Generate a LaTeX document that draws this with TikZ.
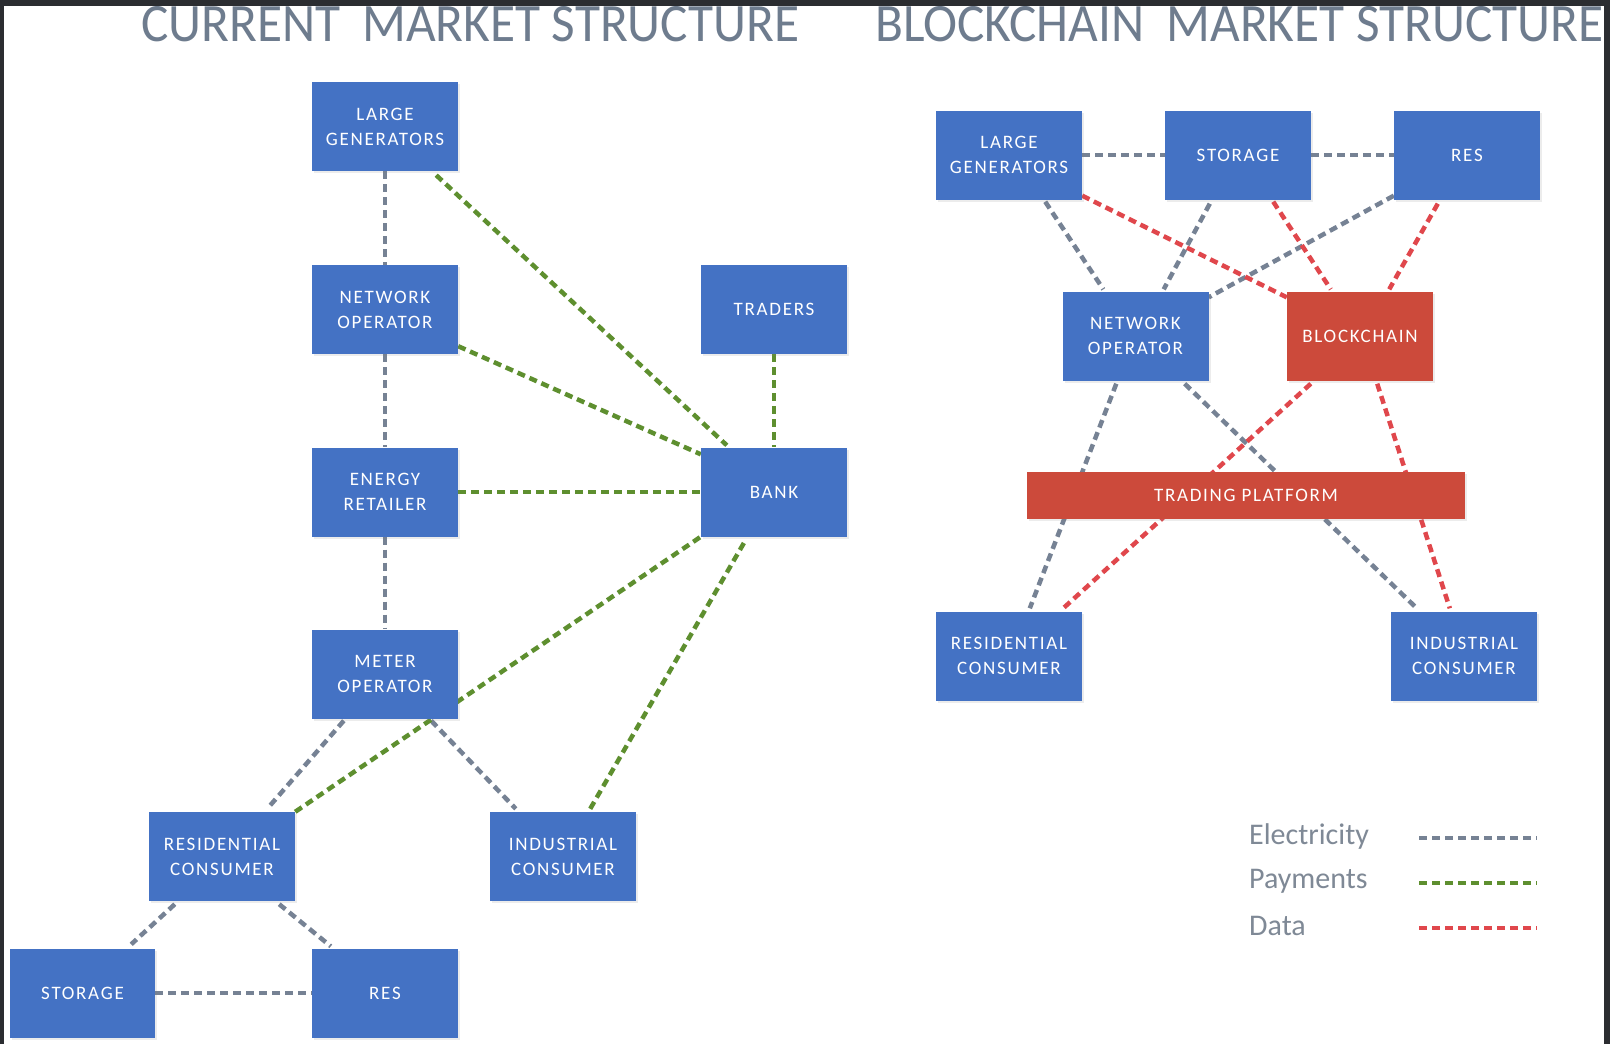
\documentclass[tikz,border=0pt]{standalone}
\usepackage{fontspec}
\setmainfont{Carlito}
\newfontfamily\boxfont[LetterSpace=9]{Carlito}
\usetikzlibrary{calc,shadows}
\definecolor{boxblue}{HTML}{4472C4}
\definecolor{boxred}{HTML}{CC4A3B}
\definecolor{elec}{HTML}{768294}
\definecolor{pay}{HTML}{5E8F2F}
\definecolor{dat}{HTML}{E0474C}
\definecolor{titlecol}{HTML}{6E7C8E}
\definecolor{legcol}{HTML}{7F8996}
\definecolor{framecol}{HTML}{2B2D31}
\pgfdeclarelayer{back}
\pgfdeclarelayer{bg}
\pgfdeclarelayer{front}
\pgfsetlayers{back,bg,main,front}
\begin{document}
\begin{tikzpicture}[x=1pt,y=-1pt,
  bx/.style={rectangle, fill=boxblue, text=white, minimum width=146pt, minimum height=89pt,
    inner sep=0pt, align=center, font=\boxfont\fontsize{19}{25}\selectfont,
    drop shadow={shadow xshift=2pt,shadow yshift=-2pt,opacity=0.15}},
  rbx/.style={bx, fill=boxred},
  conn/.style={line width=4.5pt, dash pattern=on 8pt off 5pt},
  el/.style={conn, draw=elec},
  pm/.style={conn, draw=pay},
  dt/.style={conn, draw=dat},
  ttl/.style={anchor=base west, text=titlecol, inner sep=0pt, xscale=0.95, font=\fontsize{54}{56}\selectfont},
  leg/.style={anchor=west, text=legcol, inner sep=0pt, font=\fontsize{30}{32}\selectfont}]
\useasboundingbox (0,0) rectangle (1610,1044);
\begin{pgfonlayer}{back}
\fill[white] (0,0) rectangle (1610,1044);
\end{pgfonlayer}

% titles
\node[ttl] (t1) at (141,41) {CURRENT\hspace{0.2em} MARKET STRUCTURE};
\node[ttl] (t2) at (875,41) {BLOCKCHAIN\hspace{0.2em} MARKET STRUCTURE};

% left diagram
\node[bx] (LG) at (385,126.5) {LARGE\\GENERATORS};
\node[bx] (NO) at (385,309.5) {NETWORK\\OPERATOR};
\node[bx] (ER) at (385,492) {ENERGY\\RETAILER};
\node[bx] (MO) at (385,674) {METER\\OPERATOR};
\node[bx] (TR) at (774,309.5) {TRADERS};
\node[bx] (BK) at (774,492) {BANK};
\node[bx] (RC) at (222,856.5) {RESIDENTIAL\\CONSUMER};
\node[bx] (IC) at (563,856.5) {INDUSTRIAL\\CONSUMER};
\node[bx, minimum width=145pt] (ST) at (82.5,993) {STORAGE};
\node[bx] (RS) at (385,993) {RES};

% right diagram
\node[bx] (LG2) at (1009,155) {LARGE\\GENERATORS};
\node[bx] (ST2) at (1238,155) {STORAGE};
\node[bx] (RS2) at (1467,155) {RES};
\node[bx] (NO2) at (1135.5,336) {NETWORK\\OPERATOR};
\node[rbx] (BC) at (1360,336) {BLOCKCHAIN};
\node[rbx, minimum width=438pt, minimum height=47pt] (TP) at (1246,495.5) {TRADING PLATFORM};
\node[bx] (RC2) at (1009,656) {RESIDENTIAL\\CONSUMER};
\node[bx] (IC2) at (1464,656) {INDUSTRIAL\\CONSUMER};

% legend
\node[leg] (le) at (1249,836) {Electricity};
\node[leg] (lp) at (1249,881) {Payments};
\node[leg] (ld) at (1249,926) {Data};
\coordinate (e1) at (1419,838); \coordinate (e2) at (1537,838);
\coordinate (p1) at (1419,883); \coordinate (p2) at (1537,883);
\coordinate (d1) at (1419,928); \coordinate (d2) at (1537,928);

\begin{pgfonlayer}{bg}
% left: electricity
\draw[el] (LG.south) -- (NO.north);
\draw[el] (NO.south) -- (ER.north);
\draw[el] (ER.south) -- (MO.north);
\draw[el] ($(MO.south west)+(32,2)$) -- ($(RC.north east)+(-28,-3)$);
\draw[el] ($(MO.south east)+(-27,2)$) -- ($(IC.north west)+(26,-3)$);
\draw[el] ($(RC.south west)+(26,3)$) -- ($(ST.north east)+(-24,-4)$);
\draw[el] ($(RC.south east)+(-16,3)$) -- ($(RS.north west)+(19,-2)$);
\draw[el] (ST.east) -- (RS.west);
% left: payments
\draw[pm] ($(LG.south east)+(-22,4)$) -- ($(BK.north west)+(26,-2)$);
\draw[pm] ($(NO.south east)+(0,-8)$) -- ($(BK.north west)+(0,7)$);
\draw[pm] (ER.east) -- (BK.west);
\draw[pm] (TR.south) -- (BK.north);
\draw[pm] (RC.north east) -- (BK.south west);
\draw[pm] ($(IC.north east)+(-46,-3)$) -- ($(BK.south west)+(45,3)$);
% right: electricity
\draw[el] (LG2.east) -- (ST2.west);
\draw[el] (ST2.east) -- (RS2.west);
\draw[el] ($(LG2.south east)+(-37,2)$) -- ($(NO2.north west)+(41,-2)$);
\draw[el] ($(ST2.south west)+(45,4)$) -- ($(NO2.north east)+(-45,-2)$);
\draw[el] ($(RS2.south west)+(0,-4)$) -- ($(NO2.north east)+(0,6)$);
\draw[el] ($(NO2.south west)+(54,3)$) -- ($(RC2.north west)+(94,-3)$);
\draw[el] ($(NO2.south east)+(-24,3)$) -- ($(IC2.north west)+(26,-3)$);
% right: data
\draw[dt] ($(LG2.south east)+(0,-4)$) -- ($(BC.north west)+(0,6)$);
\draw[dt] ($(ST2.south east)+(-38,2)$) -- ($(BC.north west)+(44,-2)$);
\draw[dt] ($(RS2.south west)+(44,4)$) -- ($(BC.north east)+(-44,-2)$);
\draw[dt] ($(BC.south west)+(24,3)$) -- ($(RC2.north east)+(-19,-3)$);
\draw[dt] ($(BC.south east)+(-56,3)$) -- ($(IC2.north west)+(59,-3)$);
% legend lines
\draw[el] (e1) -- (e2);
\draw[pm] (p1) -- (p2);
\draw[dt] (d1) -- (d2);
\end{pgfonlayer}

\begin{pgfonlayer}{front}
\fill[framecol] (0,0) rectangle (1610,6);
\fill[framecol] (0,0) rectangle (4,1044);
\fill[framecol] (1604,0) rectangle (1610,1044);
\end{pgfonlayer}
\end{tikzpicture}
\end{document}
